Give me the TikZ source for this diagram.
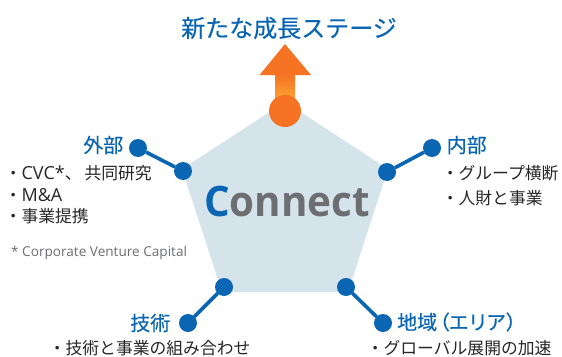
\documentclass[tikz,border=0pt]{standalone}
\usepackage{fontspec}
\setmainfont{Open Sans}
\newfontfamily\cjk{Noto Sans CJK JP}
\newfontfamily\cjkm[FakeBold=0.35]{Noto Sans CJK JP}
\newfontfamily\cjkp[FakeBold=0.35,RawFeature={+palt}]{Noto Sans CJK JP}
\newfontfamily\latn{Open Sans}
\usetikzlibrary{shadings}
\definecolor{brandblue}{HTML}{0A66B3}
\definecolor{paleblue}{HTML}{D5E3EB}
\definecolor{orangeA}{HTML}{F57323}
\definecolor{orangeB}{HTML}{FBA534}
\definecolor{greytxt}{HTML}{6D6E71}
\definecolor{bodytxt}{HTML}{262626}
\tikzset{
 dot/.style={circle,fill=brandblue,minimum size=18pt,inner sep=0pt,outer sep=0pt},
 spoke/.style={draw=brandblue,line width=3.6pt},
 head/.style={font=\cjkm\fontsize{20}{20}\selectfont,text=brandblue,inner sep=0pt},
 body/.style={font=\cjk\fontsize{16.8}{21.5}\selectfont,text=bodytxt,inner sep=0pt,align=left},
}
\begin{document}
\begin{tikzpicture}[x=1pt,y=-1pt]
\useasboundingbox (0,0) rectangle (562,356);
\fill[paleblue] (285,102) -- (388,169) -- (348,292) -- (222,292) -- (182,169) -- cycle;
\shade[top color=orangeA,bottom color=orangeB] (275,75) rectangle (295,100);
\fill[orangeA] (285,44) -- (311,75) -- (259.5,75) -- cycle;
\node[circle,fill=orangeA,minimum size=32pt,inner sep=0pt] (hub) at (285,111) {};
\node[font=\cjkm\fontsize{24}{24}\selectfont,text=brandblue,inner sep=0pt] (title) at (289,28) {新たな成長ステージ};
\node[font=\bfseries\fontsize{42}{42}\selectfont,text=greytxt,inner sep=0pt] (core) at (287,201) {\scalebox{0.96}[1]{\textcolor{brandblue}{C}onnect}};
\node[dot] (a1) at (183,171) {}; \node[dot] (a2) at (138,148) {};
\node[dot] (b1) at (387,172) {}; \node[dot] (b2) at (432,148) {};
\node[dot] (c1) at (224,287) {}; \node[dot] (c2) at (188,323) {};
\node[dot] (d1) at (346,287) {}; \node[dot] (d2) at (383,323) {};
\draw[spoke] (a1) -- (a2);
\draw[spoke] (b1) -- (b2);
\draw[spoke] (c1) -- (c2);
\draw[spoke] (d1) -- (d2);
\node[head,anchor=east] (lgA) at (123.5,145) {外部};
\node[head,anchor=west] (lgB) at (446.5,145) {内部};
\node[head,anchor=east] (lgC) at (170.5,323) {技術};
\node[head,anchor=west,font=\cjkp\fontsize{20}{20}\selectfont] (lgD) at (397,322) {地域\hspace{2pt}（エ\hspace{1pt}リ\hspace{1pt}ア\hspace{1pt}）};
\node[body,anchor=north west] (txA) at (4.6,165.5) {・{\latn\fontsize{18}{21.5}\selectfont CVC*}、\hspace{3pt}共同研究\\・{\latn\fontsize{18}{21.5}\selectfont M\&A}\\・事業提携};
\node[body,anchor=north west,font=\cjk\fontsize{16.8}{25}\selectfont] (txB) at (441.6,165) {・グループ横断\\・人財と事業};
\node[body,anchor=west] (txC) at (48.6,348.5) {・技術と事業の組み合わせ};
\node[body,anchor=west] (txD) at (366.6,348.5) {・グローバル展開の加速};
\node[font=\fontsize{13.6}{14}\selectfont,text=greytxt,inner sep=0pt,anchor=west] (foot) at (11,252.5) {* Corporate Venture Capital};
\end{tikzpicture}
\end{document}
